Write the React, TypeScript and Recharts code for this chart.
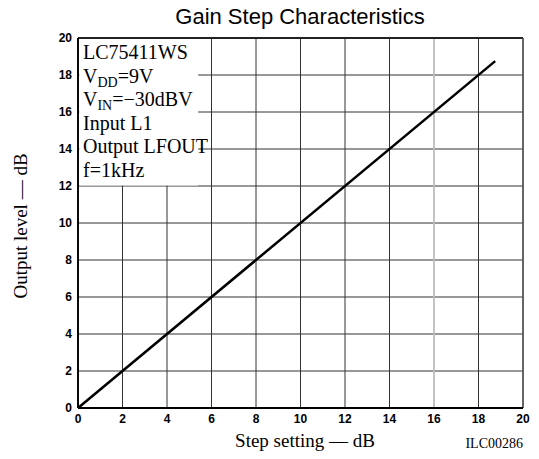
import React from 'react';
import { LineChart, Line, XAxis, YAxis, CartesianGrid, ReferenceLine, ReferenceArea } from 'recharts';

// Step setting (dB) vs output level (dB)
const stepSetting = [0, 18.75];
const outputLevel = [0, 18.75];

const xTicks = [0, 2, 4, 6, 8, 10, 12, 14, 16, 18, 20];
const yTicks = [0, 2, 4, 6, 8, 10, 12, 14, 16, 18, 20];

const data = stepSetting.map((x, i) => ({ x, y: outputLevel[i] }));

const tickStyle = { fontFamily: 'Liberation Sans, Arial, sans-serif', fontWeight: 700, fontSize: 12, fill: '#000' };
const serif = 'Liberation Serif, Times New Roman, serif';

const App: React.FC = () => {
  return (
    <div style={{ position: 'absolute', left: 0, top: 0, width: 539, height: 459, background: '#fff' }}>
      <LineChart width={539} height={459} data={data} margin={{ top: 38, right: 16, bottom: 0, left: 0 }}>
        <CartesianGrid stroke="#333" strokeWidth={1} />
        <XAxis
          dataKey="x"
          type="number"
          domain={[0, 20]}
          ticks={xTicks}
          tickSize={0}
          tickMargin={6}
          height={51}
          tick={tickStyle}
          axisLine={{ stroke: '#000', strokeWidth: 2 }}
        />
        <YAxis
          type="number"
          domain={[0, 20]}
          ticks={yTicks}
          tickSize={0}
          tickMargin={6}
          width={78}
          tick={tickStyle}
          axisLine={{ stroke: '#000', strokeWidth: 1.5 }}
        />
        {/* the 16 dB gridline is drawn pale in the original */}
        <ReferenceLine x={16} stroke="#d2d2d2" strokeWidth={1.5} />
        {/* white panel behind the condition notes, leaving the frame visible */}
        <ReferenceArea x1={0.06} x2={5.4} y1={12.03} y2={19.94} fill="#fff" fillOpacity={1} stroke="none" />
        <ReferenceLine y={20} stroke="#222" strokeWidth={2} />
        <ReferenceLine x={0} stroke="#000" strokeWidth={1.5} />
        <ReferenceLine x={20} stroke="#555" strokeWidth={1.5} />
        <Line
          dataKey="y"
          stroke="#000"
          strokeWidth={2.5}
          dot={false}
          isAnimationActive={false}
        />
      </LineChart>
      <svg width={539} height={459} style={{ position: 'absolute', left: 0, top: 0, pointerEvents: 'none' }}>
        <text x={300} y={24} textAnchor="middle" fontFamily="Liberation Sans, Arial, sans-serif" fontSize={22} fill="#000">
          Gain Step Characteristics
        </text>
        <text x={0} y={0} transform="translate(27,226) rotate(-90)" textAnchor="middle" fontFamily={serif} fontSize={19} fill="#000">
          Output level — dB
        </text>
        <text x={305} y={447} textAnchor="middle" fontFamily={serif} fontSize={19} fill="#000">
          Step setting — dB
        </text>
        <text x={523} y={448} textAnchor="end" fontFamily={serif} fontSize={14} fill="#000">
          ILC00286
        </text>
        <g fontFamily={serif} fontSize={20} fill="#000">
          <text x={83} y={59}>LC75411WS</text>
          <text x={83} y={82.5}>V<tspan fontSize={14} dy={4}>DD</tspan><tspan dy={-4}>=9V</tspan></text>
          <text x={83} y={106}>V<tspan fontSize={14} dy={4}>IN</tspan><tspan dy={-4}>=−30dBV</tspan></text>
          <text x={83} y={129.5}>Input L1</text>
          <text x={83} y={153}>Output LFOUT</text>
          <text x={83} y={176.5}>f=1kHz</text>
        </g>
      </svg>
    </div>
  );
};

export default App;
